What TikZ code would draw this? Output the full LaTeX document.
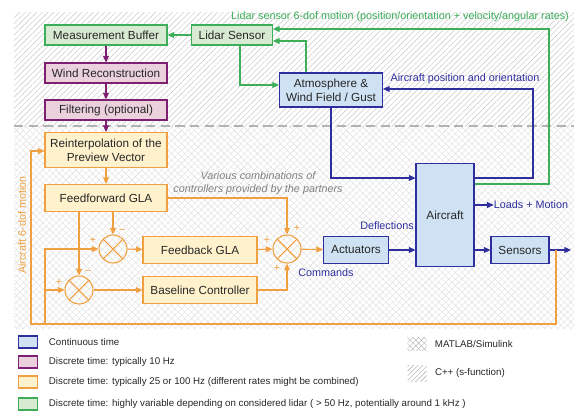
\documentclass[tikz,border=0pt]{standalone}
\usepackage{fontspec}
\setmainfont{Liberation Sans}
\usetikzlibrary{positioning, arrows.meta, patterns.meta}

\definecolor{bluedraw}{HTML}{2E2E9E}
\definecolor{bluefill}{HTML}{CFE2F3}
\definecolor{purpdraw}{HTML}{7E1F72}
\definecolor{purpfill}{HTML}{EAD1DC}
\definecolor{orgdraw}{HTML}{F0A040}
\definecolor{orgfill}{HTML}{FFF2CC}
\definecolor{grndraw}{HTML}{3DAE5A}
\definecolor{grnfill}{HTML}{D9EAD3}

\tikzset{
  blk/.style={rectangle, draw, line width=0.8pt, text=black!85, align=center,
    inner sep=2pt, font=\fontsize{8.8}{10.5}\selectfont},
  contbox/.style={blk, draw=bluedraw, fill=bluefill},
  tenbox/.style={blk, draw=purpdraw, fill=purpfill},
  ctrlbox/.style={blk, draw=orgdraw, fill=orgfill},
  lidbox/.style={blk, draw=grndraw, fill=grnfill},
  sumnode/.style={circle, draw=orgdraw, line width=0.8pt, minimum size=21pt, inner sep=0pt,
    path picture={\draw[orgdraw, line width=0.8pt]
      (path picture bounding box.north west) -- (path picture bounding box.south east)
      (path picture bounding box.north east) -- (path picture bounding box.south west);}},
  conn/.style={line width=0.8pt, -{Triangle[length=5pt,width=4.5pt]}},
  bline/.style={conn, draw=bluedraw},
  pline/.style={conn, draw=purpdraw},
  oline/.style={conn, draw=orgdraw},
  gline/.style={conn, draw=grndraw},
  sgn/.style={text=orgdraw, inner sep=0pt, font=\fontsize{8}{9}\selectfont},
  lbl/.style={inner sep=0pt, font=\fontsize{8.1}{9.5}\selectfont},
  legbox/.style={rectangle, line width=0.8pt, minimum width=14.25pt, minimum height=9pt, inner sep=0pt},
  legtxt/.style={inner sep=0pt, text=black!85, font=\fontsize{7.3}{9}\selectfont}
}

\begin{document}
\begin{tikzpicture}[x=0.75pt, y=-0.75pt]
\useasboundingbox (0,0) rectangle (574,411);

\fill[pattern={Lines[angle=45,distance=3pt,line width=0.35pt]}, pattern color=black!22] (14,12) rectangle (574,126);
\fill[pattern={Hatch[angle=45,distance=3.5pt,line width=0.3pt]}, pattern color=black!13] (14,126) rectangle (574,328);
\draw[black!30, line width=1pt, dash pattern=on 7pt off 4pt] (14,126) -- (574,126);

\node[lidbox, minimum width=91.5pt, minimum height=15pt] (buffer) at (106,35) {Measurement Buffer};
\node[lidbox, minimum width=60.75pt, minimum height=15pt] (lidar) at (232,35) {Lidar Sensor};
\node[tenbox, minimum width=91.5pt, minimum height=15pt] (windrec) at (106,73) {Wind Reconstruction};
\node[tenbox, minimum width=91.5pt, minimum height=15pt] (filt) at (106,110) {Filtering (optional)};
\node[ctrlbox, minimum width=91.5pt, minimum height=26.25pt] (reint) at (106,150) {Reinterpolation of the\\Preview Vector};
\node[ctrlbox, minimum width=91.5pt, minimum height=20.25pt] (ff) at (106,198) {Feedforward GLA};
\node[contbox, minimum width=77.25pt, minimum height=25.5pt] (atmo) at (331,90) {Atmosphere \&\\Wind Field / Gust};
\node[contbox, minimum width=43.5pt, minimum height=77.25pt] (aircraft) at (445,215) {Aircraft};
\node[contbox, minimum width=48.75pt, minimum height=20.25pt] (act) at (356,250) {Actuators};
\node[contbox, minimum width=43.5pt, minimum height=20.25pt] (sens) at (520,250) {Sensors};
\node[ctrlbox, minimum width=85.5pt, minimum height=20.25pt] (fbk) at (200,250) {Feedback GLA};
\node[ctrlbox, minimum width=85.5pt, minimum height=20.25pt] (base) at (200,290) {Baseline Controller};
\node[sumnode] (sumA) at (113,249) {};
\node[sumnode] (sumB) at (79,290) {};
\node[sumnode] (sumC) at (287,249) {};

\node[sgn] (pA1) at (93,240) {+};
\node[sgn] (mA1) at (122,231) {--};
\node[sgn] (pB1) at (59,282) {+};
\node[sgn] (mB1) at (88,272) {--};
\node[sgn] (pC1) at (297,228) {+};
\node[sgn] (pC2) at (267,240) {+};
\node[sgn] (pC3) at (277,268) {+};

\node[lbl, text=grndraw] (lidmot) at (400,17) {Lidar sensor 6-dof motion (position/orientation + velocity/angular rates)};
\node[lbl, text=bluedraw] (acpos) at (465,79) {Aircraft position and orientation};
\node[lbl, text=bluedraw] (loads) at (531,205) {Loads + Motion};
\node[lbl, text=bluedraw] (defl) at (387,226) {Deflections};
\node[lbl, text=bluedraw] (cmds) at (326,273) {Commands};
\node[lbl, text=black!50, align=center, font=\fontsize{8.1}{9.6}\selectfont\itshape] (combi) at (258,183) {Various combinations of\\controllers provided by the partners};
\node[lbl, text=orgdraw, rotate=90] (acmot) at (22,225) {Aircraft 6-dof motion};
\coordinate (out) at (571,250);

\draw[gline] (lidar) -- (buffer);
\draw[gline] (aircraft.east |- 0,184) -| (549,29) -- (lidar.east |- 0,29);
\draw[gline] (306,0 |- atmo.north) |- (lidar.east |- 0,41);
\draw[gline] (240,0 |- lidar.south) |- (atmo.west |- 0,85);
\draw[pline] (buffer) -- (windrec);
\draw[pline] (windrec) -- (filt);
\draw[pline] (filt) -- (reint);
\draw[bline] (aircraft.east |- 0,178) -| (533,89) -- (atmo.east |- 0,89);
\draw[bline] (atmo.south) |- (aircraft.west |- 0,178);
\draw[bline] (aircraft.east |- loads) -- (loads.west);
\draw[bline] (act) -- (aircraft.west |- act);
\draw[bline] (aircraft.east |- sens) -- (sens);
\draw[bline] (sens) -- (out);
\draw[oline] (reint) -- (ff);
\draw[oline] (556,0 |- sens) |- (31,324) |- (reint.west |- 0,151);
\draw[oline] (45,324) |- (sumA.west);
\draw[oline] (45,0 |- sumB) -- (sumB.west);
\draw[oline] (79,0 |- ff.south) -- (sumB.north);
\draw[oline] (113,0 |- ff.south) -- (sumA.north);
\draw[oline] (ff.east) -| (sumC.north);
\draw[oline] (sumA) -- (fbk);
\draw[oline] (fbk) -- (sumC);
\draw[oline] (sumB) -- (base);
\draw[oline] (base.east) -| (sumC.south);
\draw[oline] (sumC) -- (act);

\node[legbox, draw=bluedraw, fill=bluefill] (legA) at (28,342) {};
\node[legtxt, right=8pt of legA] (legAt) {Continuous time};
\node[legbox, draw=purpdraw, fill=purpfill] (legB) at (28,362) {};
\node[legtxt, right=8pt of legB] (legBt) {Discrete time: typically 10 Hz};
\node[legbox, draw=orgdraw, fill=orgfill] (legC) at (28,382) {};
\node[legtxt, right=8pt of legC] (legCt) {Discrete time: typically 25 or 100 Hz (different rates might be combined)};
\node[legbox, draw=grndraw, fill=grnfill] (legD) at (28,404) {};
\node[legtxt, right=8pt of legD] (legDt) {Discrete time: highly variable depending on considered lidar ( > 50 Hz, potentially around 1 kHz )};
\node[legbox, minimum height=10pt, pattern={Hatch[angle=45,distance=3pt,line width=0.3pt]}, pattern color=black!30] (legE) at (417,344) {};
\node[legtxt, right=6pt of legE] (legEt) {MATLAB/Simulink};
\node[legbox, minimum height=12pt, pattern={Lines[angle=45,distance=2.5pt,line width=0.35pt]}, pattern color=black!35] (legF) at (417,373) {};
\node[legtxt, right=6pt of legF] (legFt) {C++ (s-function)};
\end{tikzpicture}
\end{document}
